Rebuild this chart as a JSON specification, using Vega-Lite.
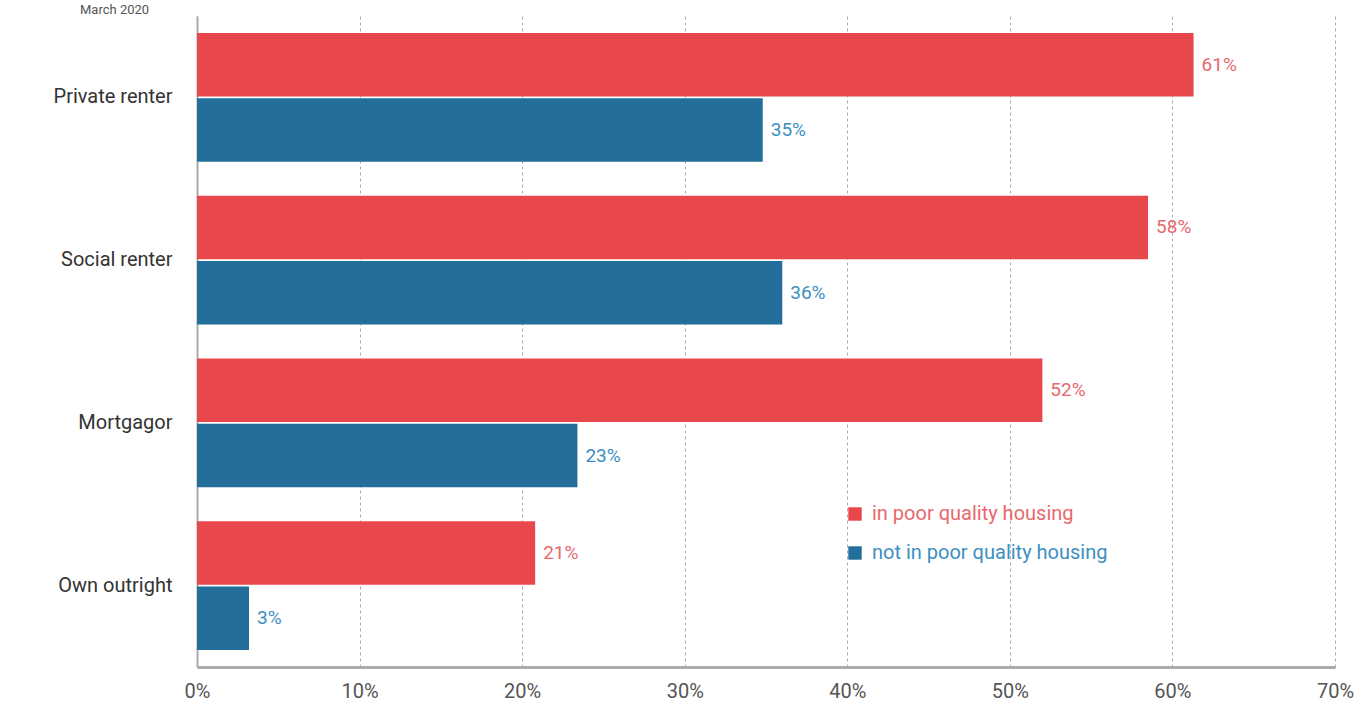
{
  "$schema": "https://vega.github.io/schema/vega-lite/v6.json",
  "autosize": "none",
  "width": 1138,
  "height": 651,
  "padding": {"left": 197, "top": 16, "right": 27, "bottom": 39},
  "background": "white",
  "title": {"text": "March 2020", "anchor": "start", "frame": "group", "dx": -117, "dy": 3, "offset": 2, "fontSize": 13, "font": "Roboto", "fontWeight": "normal", "color": "#555"},
  "config": {"view": {"stroke": null}, "font": "Roboto"},
  "data": {"values": [
    {"tenure": "Private renter", "group": "in poor quality housing", "value": 61.3, "label": "61%"},
    {"tenure": "Private renter", "group": "not in poor quality housing", "value": 34.8, "label": "35%"},
    {"tenure": "Social renter", "group": "in poor quality housing", "value": 58.5, "label": "58%"},
    {"tenure": "Social renter", "group": "not in poor quality housing", "value": 36.0, "label": "36%"},
    {"tenure": "Mortgagor", "group": "in poor quality housing", "value": 52.0, "label": "52%"},
    {"tenure": "Mortgagor", "group": "not in poor quality housing", "value": 23.4, "label": "23%"},
    {"tenure": "Own outright", "group": "in poor quality housing", "value": 20.8, "label": "21%"},
    {"tenure": "Own outright", "group": "not in poor quality housing", "value": 3.2, "label": "3%"}
  ]},
  "encoding": {
    "y": {
      "field": "tenure", "type": "nominal",
      "sort": ["Private renter", "Social renter", "Mortgagor", "Own outright"],
      "scale": {"paddingInner": 0.21, "paddingOuter": 0.105},
      "axis": {"title": null, "ticks": false, "labelPadding": 25, "labelFontSize": 20, "labelColor": "#333", "domainColor": "#aaa", "domainWidth": 2, "grid": false}
    },
    "yOffset": {
      "field": "group", "type": "nominal",
      "sort": ["in poor quality housing", "not in poor quality housing"],
      "scale": {"paddingInner": 0.03}
    },
    "x": {
      "field": "value", "type": "quantitative",
      "scale": {"domain": [0, 70], "nice": false},
      "axis": {"title": null, "values": [0, 10, 20, 30, 40, 50, 60, 70], "labelExpr": "datum.value + '%'", "labelFlush": false, "labelOverlap": false, "ticks": false, "labelPadding": 14, "labelFontSize": 20, "labelColor": "#555", "domainColor": "#aaa", "domainWidth": 3, "grid": true, "gridColor": "#aaa", "gridDash": [3, 3], "gridWidth": 1}
    }
  },
  "layer": [
    {
      "mark": {"type": "bar"},
      "encoding": {
        "color": {
          "field": "group", "type": "nominal",
          "scale": {"domain": ["in poor quality housing", "not in poor quality housing"], "range": ["#e8474b", "#236e9b"]},
          "legend": {
            "title": null, "orient": "none", "legendX": 648, "legendY": 488,
            "symbolType": "square", "symbolSize": 180, "symbolStrokeWidth": 0,
            "labelFontSize": 20, "labelLimit": 0, "rowPadding": 19, "labelOffset": 7,
            "encode": {"labels": {"update": {"fill": {"signal": "datum.label === 'in poor quality housing' ? '#e8686c' : '#3d8fc2'"}}}}
          }
        }
      }
    },
    {
      "mark": {"type": "text", "align": "left", "baseline": "middle", "dx": 8, "fontSize": 19},
      "encoding": {
        "text": {"field": "label"},
        "color": {"condition": {"test": "datum.group === 'in poor quality housing'", "value": "#e8686c"}, "value": "#3d8fc2"}
      }
    }
  ]
}
